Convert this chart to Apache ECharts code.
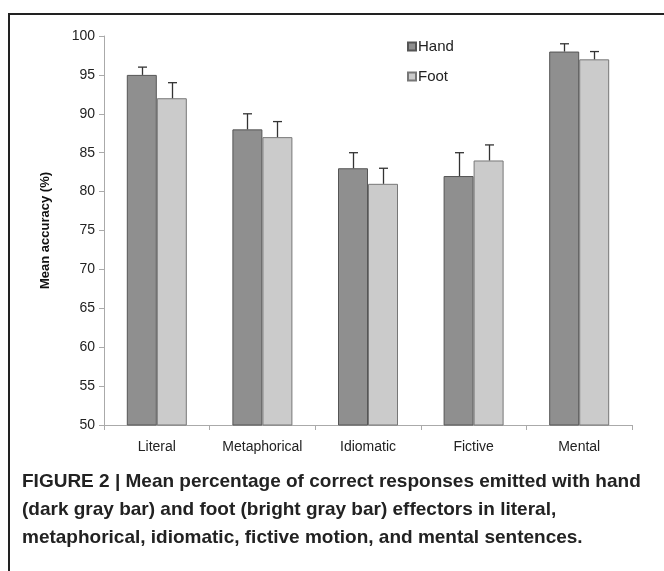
<!DOCTYPE html>
<html><head><meta charset="utf-8">
<script src="https://cdn.jsdelivr.net/npm/echarts@6/dist/echarts.min.js"></script>
<style>html,body{margin:0;padding:0;background:#fff}#c{width:664px;height:571px}</style>
</head><body><div id="c"></div>
<script>
const categories = ['Literal', 'Metaphorical', 'Idiomatic', 'Fictive', 'Mental'];
const handValues = [95, 88, 83, 82, 98];
const footValues = [92, 87, 81, 84, 97];
const handErr = [1, 2, 2, 3, 1];
const footErr = [2, 2, 2, 2, 1];
const yTicks = [50, 55, 60, 65, 70, 75, 80, 85, 90, 95, 100];
const captionLines = [
  'FIGURE 2 | Mean percentage of correct responses emitted with hand',
  '(dark gray bar) and foot (bright gray bar) effectors in literal,',
  'metaphorical, idiomatic, fictive motion, and mental sentences.'
];

const BAR_W = 30;
function errSeries(name, vals, errs, side) {
  return {
    type: 'custom', name: name + ' err', silent: true, z: 5,
    data: vals.map((v, i) => [i, v, v + errs[i]]),
    renderItem: function (params, api) {
      const top = api.coord([api.value(0), api.value(2)]);
      const base = api.coord([api.value(0), api.value(1)]);
      const x = Math.round(top[0] + side * BAR_W / 2) + 0.5;
      return { type: 'group', children: [
        { type: 'line', shape: { x1: x, y1: base[1], x2: x, y2: top[1] }, style: { stroke: '#333', lineWidth: 1.3 } },
        { type: 'line', shape: { x1: x - 4.5, y1: top[1], x2: x + 4.5, y2: top[1] }, style: { stroke: '#333', lineWidth: 1.3 } }
      ]};
    }
  };
}

const chart = echarts.init(document.getElementById('c'), null, { renderer: 'canvas' });
chart.setOption({
  animation: false,
  backgroundColor: '#fff',
  textStyle: { fontFamily: 'Liberation Sans, Arial, sans-serif' },
  grid: { left: 104, right: 32, top: 36, bottom: 146 },
  legend: {
    orient: 'vertical', left: 402, top: 34, itemWidth: 8, itemHeight: 8, itemGap: 15,
    icon: 'rect',
    textStyle: { fontSize: 15, color: '#222', padding: [0, 0, 0, -3] },
    data: ['Hand', 'Foot']
  },
  xAxis: {
    type: 'category', data: categories,
    axisLine: { lineStyle: { color: '#aaa', width: 1 } },
    axisTick: { show: true, alignWithLabel: false, length: 5, lineStyle: { color: '#aaa' } },
    axisLabel: { fontSize: 14, color: '#222', margin: 15 }
  },
  yAxis: {
    type: 'value', min: 50, max: 100, interval: 5,
    name: 'Mean accuracy (%)', nameLocation: 'middle', nameGap: 52,
    nameTextStyle: { fontSize: 13, fontWeight: 'bold', color: '#111' },
    axisLine: { show: true, lineStyle: { color: '#aaa' } },
    axisTick: { show: true, length: 5, lineStyle: { color: '#aaa' } },
    axisLabel: { fontSize: 14, color: '#222', margin: 9,
      formatter: v => yTicks.includes(v) ? String(v) : '' },
    splitLine: { show: false }
  },
  series: [
    { type: 'bar', name: 'Hand', data: handValues, barWidth: BAR_W, barGap: '0%',
      itemStyle: { color: '#8f8f8f', borderColor: '#555', borderWidth: 1 } },
    { type: 'bar', name: 'Foot', data: footValues, barWidth: BAR_W, barGap: '0%',
      itemStyle: { color: '#cbcbcb', borderColor: '#777', borderWidth: 1 } },
    errSeries('Hand', handValues, handErr, -1),
    errSeries('Foot', footValues, footErr, 1)
  ],
  graphic: [
    { type: 'line', shape: { x1: 8, y1: 14, x2: 664, y2: 14 }, style: { stroke: '#222', lineWidth: 2 } },
    { type: 'line', shape: { x1: 9, y1: 13, x2: 9, y2: 571 }, style: { stroke: '#222', lineWidth: 2 } }
  ].concat(captionLines.map((t, i) => ({
    type: 'text', left: 22, top: 472 + i * 28,
    style: { text: t, fontSize: 19, fontWeight: 'bold', fill: '#222',
      fontFamily: 'Liberation Sans, Arial, sans-serif' }
  })))
});
</script></body></html>
